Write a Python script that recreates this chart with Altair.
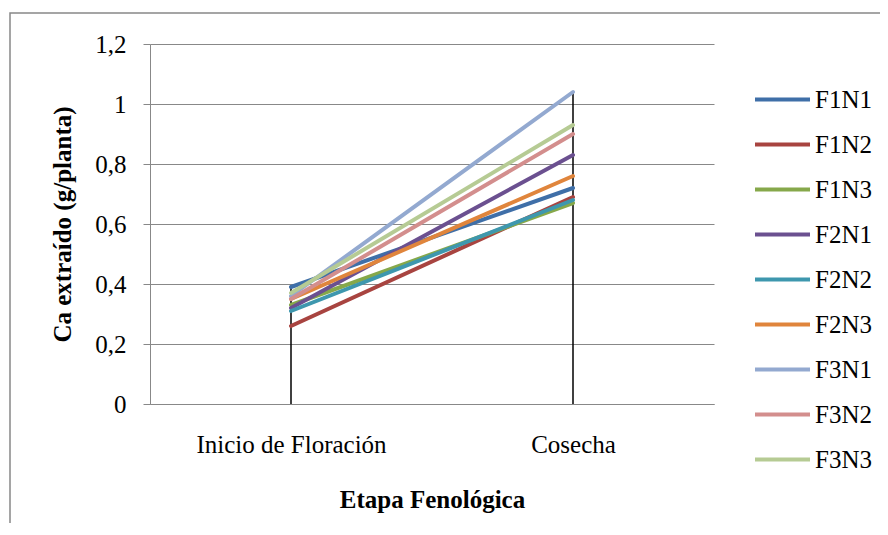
import altair as alt
import pandas as pd

stages = ["Inicio de Floración", "Cosecha"]
series = ["F1N1", "F1N2", "F1N3", "F2N1", "F2N2", "F2N3", "F3N1", "F3N2", "F3N3"]
inicio = [0.39, 0.26, 0.33, 0.32, 0.31, 0.35, 0.36, 0.35, 0.37]
cosecha = [0.72, 0.69, 0.67, 0.83, 0.68, 0.76, 1.04, 0.90, 0.93]
colors = ["#3f6fa8", "#a84440", "#86a84a", "#6b5090", "#3e97ae",
          "#e0853c", "#93a9d0", "#d38e8d", "#b6cb94"]

rows = []
for i, s in enumerate(series):
    rows.append({"stage": stages[0], "serie": s, "value": inicio[i], "order": i})
    rows.append({"stage": stages[1], "serie": s, "value": cosecha[i], "order": i})
df = pd.DataFrame(rows)
drop = pd.DataFrame({"stage": stages, "top": [max(inicio), max(cosecha)]})

FONT = "Liberation Serif"
FS = 25

x_enc = alt.X("stage:N", sort=stages, scale=alt.Scale(type="point", padding=0.5),
              axis=alt.Axis(title="Etapa Fenológica", labelAngle=0, ticks=False,
                            labelAlign="center", labelBaseline="top", labelLimit=500,
                            labelPadding=28, titlePadding=30, domainColor="#888888",
                            grid=False, labelFont=FONT, titleFont=FONT,
                            labelFontSize=FS, titleFontSize=FS, labelColor="black",
                            titleColor="black", titleFontWeight="bold"))

lines = alt.Chart(df).mark_line(strokeWidth=4, strokeCap="round").encode(
    x=x_enc,
    y=alt.Y("value:Q", scale=alt.Scale(domain=[0, 1.2]),
            axis=alt.Axis(title="Ca extraído (g/planta)", values=[0, 0.2, 0.4, 0.6, 0.8, 1.0, 1.2],
                          labelExpr="replace(toString(round(datum.value*10)/10), '.', ',')",
                          tickSize=7, tickColor="#888888", domainColor="#888888",
                          gridColor="#888888", labelPadding=17, titlePadding=19,
                          labelFont=FONT, titleFont=FONT,
                          labelFontSize=FS, titleFontSize=FS, labelColor="black",
                          titleColor="black", titleFontWeight="bold")),
    color=alt.Color("serie:N", sort=series,
                    scale=alt.Scale(domain=series, range=colors),
                    legend=alt.Legend(title=None, orient="none", legendX=603, legendY=26,
                                      symbolType="stroke", symbolSize=3025,
                                      symbolStrokeWidth=4, labelFontSize=FS,
                                      labelFont=FONT, labelColor="black",
                                      rowPadding=2, labelOffset=3)),
    detail="serie:N",
    order="order:Q",
)

rules = alt.Chart(drop).mark_rule(color="black", strokeWidth=1.5).encode(
    x=alt.X("stage:N", sort=stages),
    y="top:Q",
    y2=alt.datum(0),
)

border = alt.Chart(pd.DataFrame({"a": [0]})).mark_rect(
    fill=None, stroke="#888888", strokeWidth=1.5).encode(
    x=alt.value(-140), x2=alt.value(760), y=alt.value(-31), y2=alt.value(520))

chart = alt.layer(border, rules, lines).properties(
    width=564, height=360,
    autosize=alt.AutoSizeParams(type="none"),
    padding={"left": 142, "top": 36, "right": 166, "bottom": 119},
).configure_view(stroke=None)

chart.save("out.html", embed_options={"renderer": "svg", "actions": False})
